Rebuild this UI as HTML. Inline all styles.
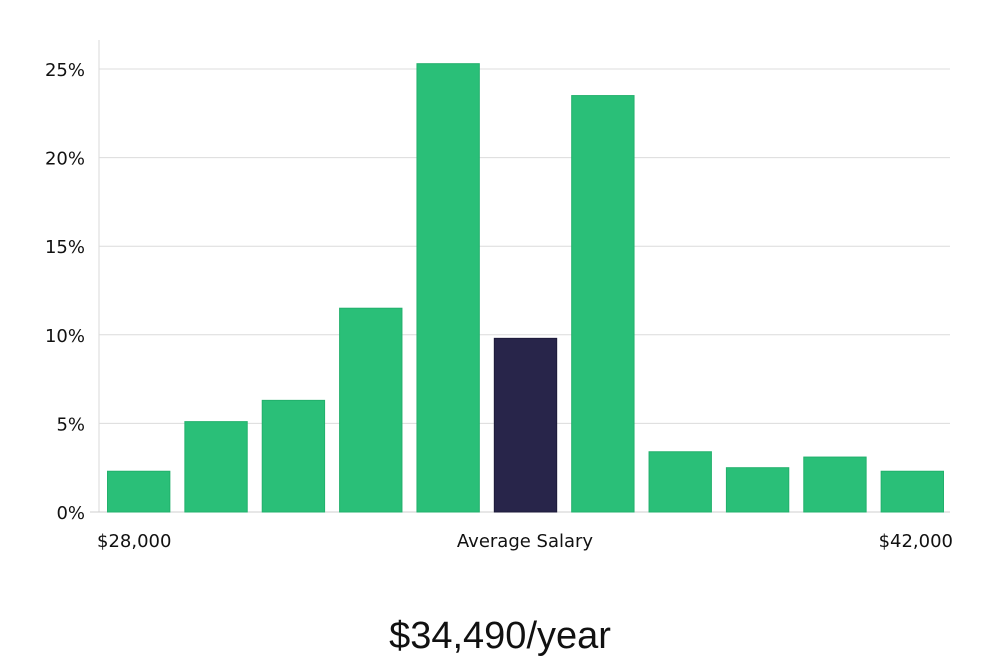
<!DOCTYPE html>
<html><head><meta charset="utf-8"><style>
html,body{margin:0;padding:0;background:#fff;width:1000px;height:660px;overflow:hidden}
svg text{font-family:"DejaVu Sans","Liberation Sans",sans-serif}
</style></head><body>
<svg id="chart" width="1000" height="660" xmlns="http://www.w3.org/2000/svg">
<g id="grid"></g><g id="bars"></g><g id="labels"></g>
<text x="500" y="648" text-anchor="middle" font-size="38" fill="#111" style="font-family:'Liberation Sans','DejaVu Sans',sans-serif;font-weight:300">$34,490/year</text>
</svg>
<script>
const categories = ["b1","b2","b3","b4","b5","avg","b7","b8","b9","b10","b11"];
const values = [2.3, 5.1, 6.3, 11.5, 25.3, 9.8, 23.5, 3.4, 2.5, 3.1, 2.3];
const highlightIndex = 5;
const yTicks = [0, 5, 10, 15, 20, 25];
const xLabels = ["$28,000", "Average Salary", "$42,000"];

const NS = "http://www.w3.org/2000/svg";
const x0 = 99, x1 = 950, y0 = 512, yTop = 40;
const yScale = v => y0 - v * (443 / 25);
const slot = (x1 - x0) / categories.length;
const xScale = i => x0 + i * slot;
function mk(tag, attrs, parent, txt) {
  const e = document.createElementNS(NS, tag);
  for (const k in attrs) e.setAttribute(k, attrs[k]);
  if (txt !== undefined) e.textContent = txt;
  parent.appendChild(e);
  return e;
}
const grid = document.getElementById("grid");
const bars = document.getElementById("bars");
const labels = document.getElementById("labels");
const axis = mk("line", {x1: x0, x2: x0, y1: yTop, y2: y0, stroke: "#d8d8d8", "stroke-width": 1}, grid);


yTicks.forEach(t => {
  const y = yScale(t);
  const g = mk("line", {x1: t === 0 ? 90 : x0, x2: x1, y1: y, y2: y, stroke: t === 0 ? "#cfcfcf" : "#dcdcdc", "stroke-width": 1}, grid);
  
  
  const tl = mk("text", {x: 85, y: y + 7, "text-anchor": "end", "font-size": 18, fill: "#111"}, labels, t + "%");
  
  
});
values.forEach((v, i) => {
  const hi = i === highlightIndex;
  const r = mk("rect", {x: xScale(i) + 8.5, y: yScale(v), width: slot - 15, height: y0 - yScale(v),
    fill: hi ? "#28254a" : "#2abf78", stroke: hi ? "#1c1a3a" : "#22b06c", "stroke-width": 1}, bars);
  
  
});
const lx = [[97, "start"], [525, "middle"], [953, "end"]];
xLabels.forEach((s, i) => {
  const t = mk("text", {x: lx[i][0], y: 547, "text-anchor": lx[i][1], "font-size": 18, fill: "#111"}, labels, s);
  
  
});
</script>
</body></html>
